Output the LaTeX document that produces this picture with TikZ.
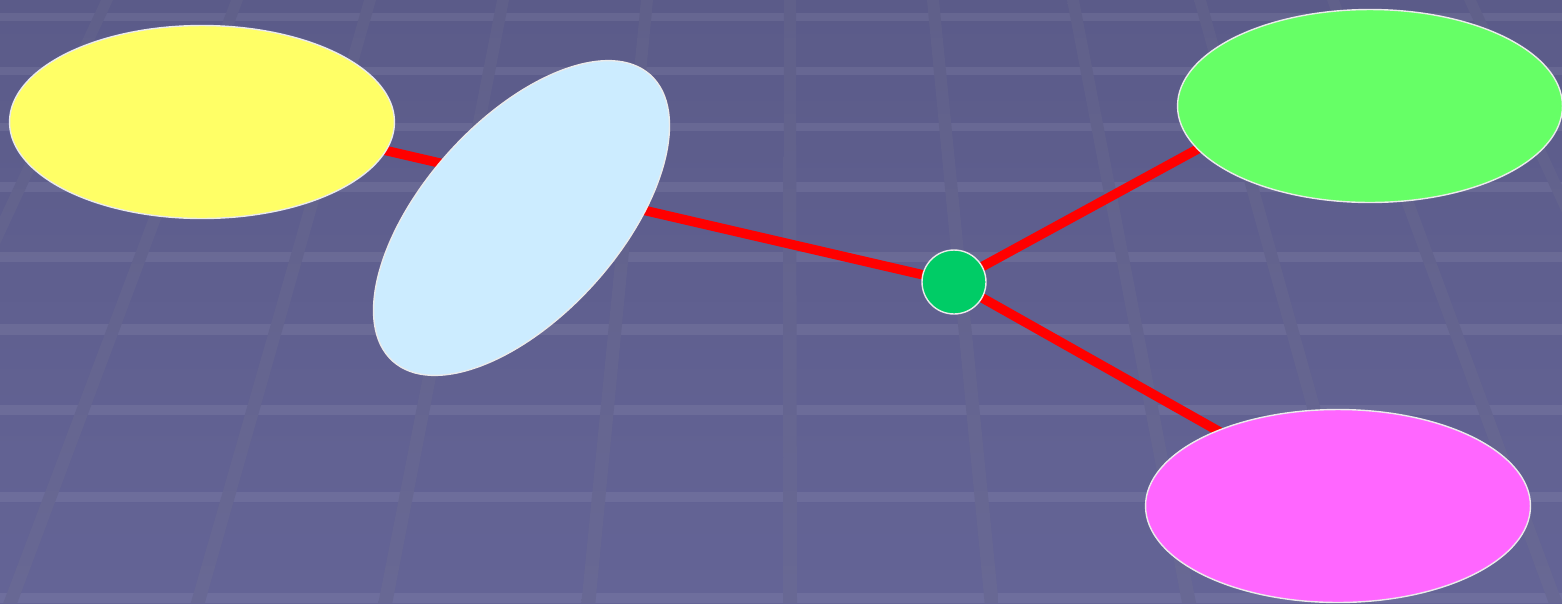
\documentclass[tikz,border=0pt]{standalone}
\usetikzlibrary{shapes.geometric,backgrounds}

\definecolor{floortop}{HTML}{5B5B89}
\definecolor{floorbot}{HTML}{646496}
\definecolor{railtop}{HTML}{60608A}
\definecolor{railbot}{HTML}{686894}
\definecolor{sunny}{HTML}{FFFF66}
\definecolor{icy}{HTML}{CCECFF}
\definecolor{leaf}{HTML}{66FF66}
\definecolor{pinky}{HTML}{FF66FF}
\definecolor{hubgreen}{HTML}{00CC66}

\tikzset{
  blob/.style={ellipse, draw=white!92!black, line width=0.8pt, inner sep=0pt,
    minimum width=7.7cm, minimum height=3.86cm},
  hubdot/.style={circle, draw=white!92!black, line width=0.8pt, fill=hubgreen,
    minimum size=1.28cm, inner sep=0pt},
  link/.style={red, line width=5.4pt}
}

\begin{document}
\begin{tikzpicture}[x=0.02cm, y=-0.02cm]
  \useasboundingbox (0,0) rectangle (1562,603);

  % floor with perspective grid
  \begin{scope}[on background layer]
    \shade[top color=floortop, bottom color=floorbot] (0,0) rectangle (1562,603);
    \foreach \y/\w in {17/8,71/8,127/8,187/10,257/10,329/11,410/10,497/10,598/10}
      \fill[white, opacity=0.07] (0,\y-\w/2) rectangle (1562,\y+\w/2);
    \foreach \x in {107,237,370,503,647,790,933,1073,1200,1333,1470}
      \shade[top color=railtop, bottom color=railbot]
        (\x-6,0) -- (\x+6,0) -- ({790+1.41*(\x-790)+7},603)
        -- ({790+1.41*(\x-790)-7},603) -- cycle;
  \end{scope}

  \node[blob, fill=sunny] (yellow) at (202,122) {};
  \node[blob, fill=icy, rotate=48, minimum height=3.92cm] (icy) at (521.5,218) {};
  \node[blob, fill=leaf] (green) at (1370,106) {};
  \node[blob, fill=pinky] (pink) at (1338,506) {};
  \node[hubdot] (hub) at (954,282) {};

  % links run under the ellipses
  \begin{scope}[on background layer]
    \draw[link] (hub.center) -- ([yshift=0.28cm]yellow.center);
    \draw[link] (hub.center) -- ([yshift=1.02cm]green.center);
    \draw[link] (hub.center) -- ([yshift=0.15cm]pink.center);
  \end{scope}
\end{tikzpicture}
\end{document}
